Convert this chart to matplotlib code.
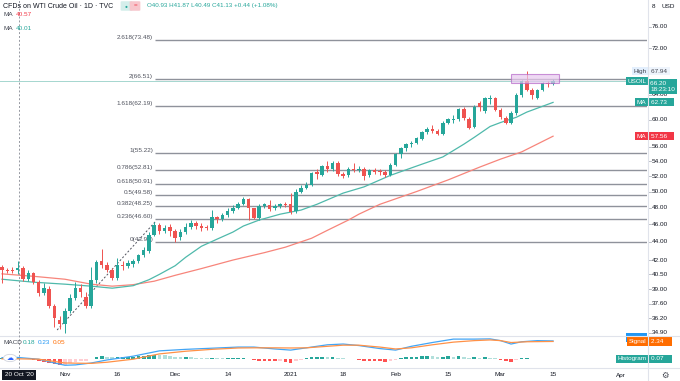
import matplotlib
matplotlib.use('Agg')
import matplotlib.pyplot as plt
import numpy as np
import pandas as pd
from matplotlib.patches import Rectangle, FancyBboxPatch, Circle
from matplotlib.lines import Line2D
from matplotlib.transforms import blended_transform_factory as btf

plt.rcParams['font.family'] = ['Liberation Sans', 'DejaVu Sans']

# ---------------- data ----------------
opens = [41.3, 41.0, 40.95, 40.93, 41.2, 40.0, 40.6, 39.7, 38.6, 39.0,
         37.4, 36.1, 35.7, 36.9, 38.1, 39.1, 38.2, 37.4, 39.9, 41.9,
         41.5, 41.0, 40.1, 41.5, 41.4, 41.6, 41.9, 42.5, 43.0, 44.8,
         45.9, 45.2, 45.7, 45.2, 44.5, 45.1, 45.7, 46.2, 45.8, 45.7,
         45.6, 46.9, 46.6, 47.1, 47.6, 48.0, 48.5, 49.1, 47.9, 46.8,
         48.2, 48.3, 47.9, 48.2, 48.5, 48.4, 47.6, 50.0, 50.5, 50.9,
         52.5, 52.2, 53.3, 52.9, 53.8, 52.3, 52.1, 53.0, 52.8, 53.0,
         52.1, 52.8, 52.7, 52.6, 52.2, 53.5, 55.0, 55.8, 56.4, 56.6,
         57.2, 58.2, 58.6, 58.4, 57.9, 59.5, 60.0, 60.1, 61.7, 60.2,
         58.9, 62.6, 61.3, 63.3, 63.4, 61.6, 60.3, 59.6, 61.0, 64.0,
         66.2, 64.8, 63.5, 64.7, 65.9, 65.8]
highs = [41.5, 41.2, 41.3, 41.87, 41.4, 40.9, 40.7, 39.9, 39.6, 39.3,
         37.6, 36.4, 37.2, 38.5, 39.7, 39.5, 38.7, 41.3, 42.0, 43.2,
         41.8, 41.2, 42.2, 41.9, 42.0, 42.1, 42.7, 43.4, 45.1, 46.3,
         46.2, 45.9, 46.0, 45.4, 45.4, 46.1, 46.5, 46.4, 46.2, 45.9,
         47.7, 47.0, 47.4, 47.9, 48.3, 48.7, 49.3, 49.2, 48.0, 48.4,
         48.6, 48.9, 48.4, 48.6, 48.7, 49.8, 50.3, 50.9, 51.2, 52.6,
         52.9, 53.5, 54.0, 54.0, 54.0, 52.5, 53.2, 53.8, 53.3, 53.2,
         53.0, 53.1, 53.0, 52.8, 53.8, 55.2, 56.0, 56.6, 56.9, 57.5,
         58.4, 58.9, 59.2, 58.6, 59.8, 60.3, 60.8, 61.9, 62.0, 60.4,
         62.3, 62.9, 63.6, 63.9, 63.6, 61.9, 60.6, 61.4, 64.2, 66.4,
         67.94, 65.0, 64.9, 66.1, 66.3, 66.5]
lows = [39.6, 40.6, 40.6, 40.49, 39.8, 39.8, 39.5, 38.3, 38.4, 37.2,
        35.4, 35.2, 34.9, 36.7, 37.9, 38.2, 37.2, 37.2, 39.6, 41.2,
        40.7, 39.9, 39.9, 41.0, 41.2, 41.3, 41.7, 42.3, 42.8, 44.6,
        44.9, 45.0, 44.6, 43.94, 44.2, 44.9, 45.5, 45.5, 45.2, 45.3,
        45.3, 46.2, 46.4, 46.9, 47.4, 47.8, 48.3, 46.5, 46.6, 46.5,
        47.9, 47.6, 47.7, 47.9, 48.1, 47.2, 47.3, 49.8, 50.3, 50.7,
        51.6, 52.0, 52.6, 52.7, 52.0, 51.8, 51.9, 52.5, 52.5, 51.5,
        51.9, 52.3, 52.2, 51.9, 52.0, 53.3, 54.5, 55.5, 56.0, 56.4,
        57.0, 57.9, 58.1, 57.7, 57.7, 59.3, 59.6, 59.9, 60.0, 58.6,
        58.7, 61.4, 61.0, 62.5, 61.3, 60.2, 59.3, 59.3, 60.8, 63.6,
        64.5, 63.2, 63.2, 64.5, 65.3, 65.5]
closes = [40.95, 40.85, 40.8, 41.13, 40.0, 40.6, 39.7, 38.6, 39.1, 37.4,
          36.2, 35.7, 36.9, 38.1, 39.1, 38.7, 37.4, 39.9, 41.8, 41.5,
          40.95, 40.1, 41.5, 41.4, 41.7, 41.9, 42.5, 43.1, 44.8, 45.9,
          45.2, 45.6, 45.2, 44.4, 45.1, 45.7, 46.2, 45.8, 45.6, 45.55,
          46.9, 46.6, 47.1, 47.6, 48.0, 48.5, 49.1, 47.9, 46.8, 48.2,
          48.4, 47.8, 48.2, 48.4, 48.35, 47.5, 49.9, 50.5, 50.9, 52.4,
          52.3, 53.3, 53.0, 53.8, 52.3, 52.0, 52.9, 52.8, 53.0, 52.0,
          52.8, 52.6, 52.5, 52.1, 53.5, 55.0, 55.8, 56.4, 56.6, 57.3,
          58.2, 58.6, 58.4, 57.9, 59.5, 60.1, 60.15, 61.7, 60.3, 58.8,
          62.0, 62.0, 63.4, 63.45, 61.6, 60.4, 59.6, 61.0, 64.0, 66.2,
          64.8, 63.9, 64.7, 65.9, 65.7, 66.2]

ma_fast_idx = [0, 6, 12, 17, 21, 25, 28, 30, 33, 35, 38, 41, 44, 46, 49, 53, 57,
               60, 65, 69, 74, 80, 84, 88, 90, 93, 95, 98, 100, 105]
ma_fast = [40.0, 39.7, 39.5, 39.3, 39.1, 39.35, 39.95, 40.5, 41.4, 42.3, 43.5,
           44.3, 45.1, 45.8, 46.5, 47.2, 47.7, 48.4, 49.8, 50.6, 52.1, 53.6,
           54.6, 56.4, 57.4, 59.0, 59.6, 60.4, 61.2, 62.73]
ma_slow_idx = [0, 6, 12, 17, 21, 25, 29, 33, 38, 44, 50, 54, 59, 62, 66, 68, 72,
               79, 85, 91, 95, 99, 105]
ma_slow = [40.55, 40.3, 40.0, 39.5, 39.3, 39.45, 39.8, 40.4, 41.1, 42.0, 42.8,
           43.4, 44.4, 45.3, 46.5, 47.2, 48.4, 50.0, 51.5, 53.2, 54.3, 55.3, 57.56]

macd_idx = [0, 3, 7, 10, 12, 14, 17, 20, 25, 30, 35, 40, 45, 48, 52, 55, 58, 62,
            65, 68, 72, 75, 78, 82, 86, 90, 93, 95, 97, 99, 102, 105]
macd_line = [0.2, 0.23, 0.0, -0.5, -0.8, -0.75, -0.5, -0.1, 0.4, 1.1, 1.3, 1.45,
             1.6, 1.6, 1.35, 1.2, 1.5, 1.9, 2.0, 1.8, 1.4, 1.2, 1.7, 2.2, 2.65,
             2.65, 2.68, 2.45, 2.0, 2.3, 2.45, 2.41]
signal_idx = [0, 3, 7, 12, 17, 20, 25, 30, 35, 40, 45, 48, 52, 55, 58, 62, 65, 68,
              72, 75, 78, 82, 86, 90, 93, 95, 97, 100, 105]
signal_line = [0.05, 0.05, 0.0, -0.5, -0.55, -0.4, 0.0, 0.7, 1.05, 1.3, 1.48, 1.5,
               1.5, 1.48, 1.5, 1.7, 1.85, 1.85, 1.6, 1.35, 1.5, 1.9, 2.25, 2.45,
               2.54, 2.45, 2.2, 2.3, 2.34]
histogram = [0.15, 0.15, 0.17, 0.18, 0.05, 0.0, -0.1, -0.3, -0.35, -0.5,
             -0.65, -0.75, -0.7, -0.55, -0.4, -0.3, -0.25, 0.05, 0.3, 0.4,
             0.35, 0.25, 0.3, 0.3, 0.32, 0.35, 0.4, 0.45, 0.55, 0.6,
             0.55, 0.5, 0.45, 0.35, 0.3, 0.3, 0.28, 0.22, 0.18, 0.15,
             0.17, 0.13, 0.12, 0.12, 0.12, 0.12, 0.14, 0.02, -0.15, -0.2,
             -0.22, -0.28, -0.3, -0.3, -0.32, -0.45, -0.25, -0.05, 0.12, 0.3,
             0.3, 0.35, 0.33, 0.35, 0.2, 0.1, 0.05, 0.02, -0.08, -0.2,
             -0.22, -0.25, -0.28, -0.35, -0.3, -0.1, 0.1, 0.25, 0.3, 0.35,
             0.4, 0.42, 0.38, 0.3, 0.35, 0.38, 0.35, 0.4, 0.3, 0.15,
             0.25, 0.2, 0.25, 0.22, 0.1, -0.1, -0.3, -0.35, -0.1, 0.1,
             0.12, 0.05, 0.03, 0.06, 0.06, 0.07]

fib_ratios = ['0', '0.236', '0.382', '0.5', '0.618', '0.786', '1', '1.618', '2', '2.618']
fib_values = [43.94, 46.60, 48.25, 49.58, 50.91, 52.81, 55.22, 62.19, 66.51, 73.48]

price_ticks = [76.00, 72.00, 64.00, 60.00, 56.00, 54.00, 52.00, 50.00, 48.00,
               46.00, 44.00, 42.00, 40.50, 39.00, 37.60, 36.20, 34.90]

date_labels = ['Nov', '16', 'Dec', '14', '2021', '18', 'Feb', '15', 'Mar', '15', 'Apr']
date_ticks = ['2020-11-02', '2020-11-16', '2020-12-01', '2020-12-15', '2021-01-04',
              '2021-01-18', '2021-02-01', '2021-02-15', '2021-03-01', '2021-03-15',
              '2021-04-01']

# trading calendar
dates = pd.bdate_range('2020-10-15', '2021-04-09')
dates = dates[~dates.isin(pd.to_datetime(['2020-12-25', '2021-01-01']))]
n = len(closes)
idx = np.arange(n)

# ---------------- styling ----------------
TEAL = '#26a69a'
RED = '#ef5350'
W, H = 680, 381
fig = plt.figure(figsize=(W / 100, H / 100), dpi=100)
fig.patch.set_facecolor('white')


def fx(px):
    return px / W


def fy(py):
    return 1 - py / H


XL = (-0.38, 122.9)
ax = fig.add_axes([0, fy(336), fx(647), 336 / H])
axm = fig.add_axes([0, fy(368), fx(647), 32 / H])
for a in (ax, axm):
    a.set_xlim(*XL)
    for s in a.spines.values():
        s.set_visible(False)
    a.set_xticks([])
    a.set_yticks([])
    a.patch.set_alpha(0)
ax.set_yscale('log')
ax.set_ylim(34.62, 81.4)
ax.minorticks_off()
ax.set_yticks([])
axm.set_ylim(-1.16, 3.06)

# separators
for yy in (336, 368):
    fig.add_artist(Line2D([0, 1], [fy(yy), fy(yy)], color='#e0e3eb', lw=0.8))
fig.add_artist(Line2D([fx(648), fx(648)], [0, 1], color='#e0e3eb', lw=0.8))

# crosshair
fig.add_artist(Line2D([fx(19), fx(19)], [fy(368), 1], color='#9598a1', lw=0.7,
                      ls=(0, (2, 2))))

# fib levels
fib_start = 29.2
ax.hlines(fib_values, fib_start, XL[1], color='#8f929b', lw=1.0, zorder=1)
for r, v in zip(fib_ratios, fib_values):
    ax.text(28.8, v, f'{r}({v:.2f})', ha='right', va='bottom', fontsize=4.6,
            color='#50535e', zorder=2)
ax.plot([10.5, 29.2], [35.15, 46.3], color='#50535e', lw=0.7, ls=(0, (2, 2)), zorder=2)

# current price line
ax.axhline(closes[-1], color='#a5d6cf', lw=0.7, zorder=1)

# moving averages
ax.plot(ma_slow_idx, ma_slow, color='#f7857b', lw=0.9, zorder=3)
ax.plot(ma_fast_idx, ma_fast, color='#4fb9ab', lw=0.9, zorder=3)

# candles
O = np.array(opens); C = np.array(closes)
Hi = np.array(highs); Lo = np.array(lows)
up = C >= O
cols = np.where(up, TEAL, RED)
ax.vlines(idx, Lo, Hi, colors=cols, lw=0.7, zorder=4)
bot = np.minimum(O, C)
top = np.maximum(O, C)
hgt = np.maximum(top - bot, bot * 0.0025)
ax.bar(idx, hgt, bottom=bot, width=0.66, color=cols, zorder=5, linewidth=0)

# highlight rectangle
ax.add_patch(Rectangle((97.0, 65.9), 9.2, 1.53, facecolor='#e8c9ee', alpha=0.7,
                       edgecolor='#b567c8', lw=0.8, zorder=6))

# MACD pane
hist = np.array(histogram)
hcols = []
for i, h in enumerate(hist):
    prev = hist[i - 1] if i > 0 else h
    if h >= 0:
        hcols.append('#26a69a' if h >= prev else '#b2dfdb')
    else:
        hcols.append('#ff5252' if h < prev else '#ffcdd2')
axm.bar(idx, hist, width=0.7, color=hcols, linewidth=0, zorder=2)
axm.plot(macd_idx, macd_line, color='#42a5f5', lw=0.9, zorder=3)
axm.plot(signal_idx, signal_line, color='#ff9147', lw=0.9, zorder=3)
# indicator icon
fig.add_artist(Circle((fx(10), fy(358)), 6.5 / W, fc='white', ec='#d1d4dc', lw=0.6))
fig.text(fx(10), fy(358), '☁', fontsize=5, color='#2962ff', ha='center', va='center',
         family=['DejaVu Sans'])

# ---------------- right price axis ----------------
tr = btf(fig.transFigure, ax.transData)
for v in price_ticks:
    ax.text(fx(652), v, f'{v:.2f}', transform=tr, fontsize=4.6, color='#131722',
            ha='left', va='center', clip_on=False, zorder=8)
    ax.plot([fx(648), fx(650.5)], [v, v], transform=tr, color='#b2b5be', lw=0.6,
            clip_on=False)
# top tick label is mostly hidden behind the currency tag: only its first digit shows
ax.text(fx(652), 80.0, '8', transform=tr, fontsize=4.6, color='#131722',
        ha='left', va='center', clip_on=False, zorder=8)


def tag(axis, y, txt, fc, tc, xpx, ha='left', fs=4.6, pad=0.25):
    t = btf(fig.transFigure, axis.transData)
    axis.text(fx(xpx), y, txt, transform=t, fontsize=fs, color=tc, ha=ha, va='center',
              clip_on=False, zorder=10,
              bbox=dict(boxstyle=f'square,pad={pad}', fc=fc, ec='none'))


tag(ax, 80.0, 'USD', 'white', '#131722', 662)
tag(ax, 67.94, 'High', '#e3effd', '#434651', 646.5, ha='right')
tag(ax, 67.94, '67.94 ', '#eef4fc', '#434651', 651)
tag(ax, 66.2, 'USOIL', TEAL, 'white', 646.5, ha='right')
ax.text(fx(650), 66.2, '66.20   \n18:23:10', transform=tr, fontsize=4.6, color='white',
        ha='left', va='top', clip_on=False, zorder=10, linespacing=1.1,
        bbox=dict(boxstyle='square,pad=0.3', fc=TEAL, ec='none'))
tag(ax, 62.73, 'MA', TEAL, 'white', 646.5, ha='right')
tag(ax, 62.73, '62.73   ', TEAL, 'white', 651)
tag(ax, 57.56, 'MA', '#f23645', 'white', 646.5, ha='right')
tag(ax, 57.56, '57.56   ', '#f23645', 'white', 651)

tag(axm, 2.85, '          ', '#2196f3', 'white', 628)
tag(axm, 2.34, 'Signal', '#ff6d00', 'white', 646.5, ha='right')
tag(axm, 2.34, '2.34    ', '#ff6d00', 'white', 651)
tag(axm, 0.07, 'Histogram', TEAL, 'white', 646.5, ha='right')
tag(axm, 0.07, '0.07    ', TEAL, 'white', 651)

# ---------------- date axis ----------------
pos = {d.strftime('%Y-%m-%d'): i for i, d in enumerate(dates)}
for lab, d in zip(date_labels, date_ticks):
    xi = pos[d]
    xpx = 2 + 5.247 * xi
    fig.text(fx(xpx), fy(375), lab, fontsize=4.6, color='#131722', ha='center',
             va='center')
fig.text(fx(19), fy(375), "20 Oct '20", fontsize=4.6, color='white', ha='center',
         va='center', bbox=dict(boxstyle='square,pad=0.45', fc='#131722', ec='none'))
fig.text(fx(665), fy(375), '⚙', fontsize=6, color='#434651', ha='center', va='center',
         family=['DejaVu Sans'])

# ---------------- legends ----------------
fig.text(fx(3), fy(6), 'CFDs on WTI Crude Oil · 1D · TVC', fontsize=5.0,
         color='#131722', ha='left', va='center')
fig.add_artist(FancyBboxPatch((fx(122), fy(10)), fx(9), 8 / H,
                              boxstyle='round,pad=0.002', fc='#d4eeeb', ec='none'))
fig.add_artist(FancyBboxPatch((fx(131), fy(10)), fx(8), 8 / H,
                              boxstyle='round,pad=0.002', fc='#f7c6cc', ec='none'))
fig.text(fx(126.5), fy(6), '●', fontsize=3.5, color=TEAL, ha='center', va='center')
fig.text(fx(135), fy(6), '=', fontsize=4.5, color='#f23645', ha='center', va='center')
fig.text(fx(147), fy(6), 'O40.93 H41.87 L40.49 C41.13 +0.44 (+1.08%)',
         fontsize=4.5, color=TEAL, ha='left', va='center')
fig.text(fx(3), fy(15), 'MA', fontsize=4.6, color='#434651', ha='left', va='center')
fig.text(fx(16), fy(15), '40.57', fontsize=4.6, color='#f23645', ha='left', va='center')
fig.text(fx(3), fy(28), 'MA', fontsize=4.6, color='#434651', ha='left', va='center')
fig.text(fx(16), fy(28), '40.01', fontsize=4.6, color=TEAL, ha='left', va='center')

fig.text(fx(3), fy(343), 'MACD', fontsize=4.6, color='#434651', ha='left', va='center')
fig.text(fx(23), fy(343), '0.18', fontsize=4.6, color=TEAL, ha='left', va='center')
fig.text(fx(38), fy(343), '0.23', fontsize=4.6, color='#2196f3', ha='left', va='center')
fig.text(fx(53), fy(343), '0.05', fontsize=4.6, color='#ff6d00', ha='left', va='center')

fig.savefig('out.png', dpi=100)
